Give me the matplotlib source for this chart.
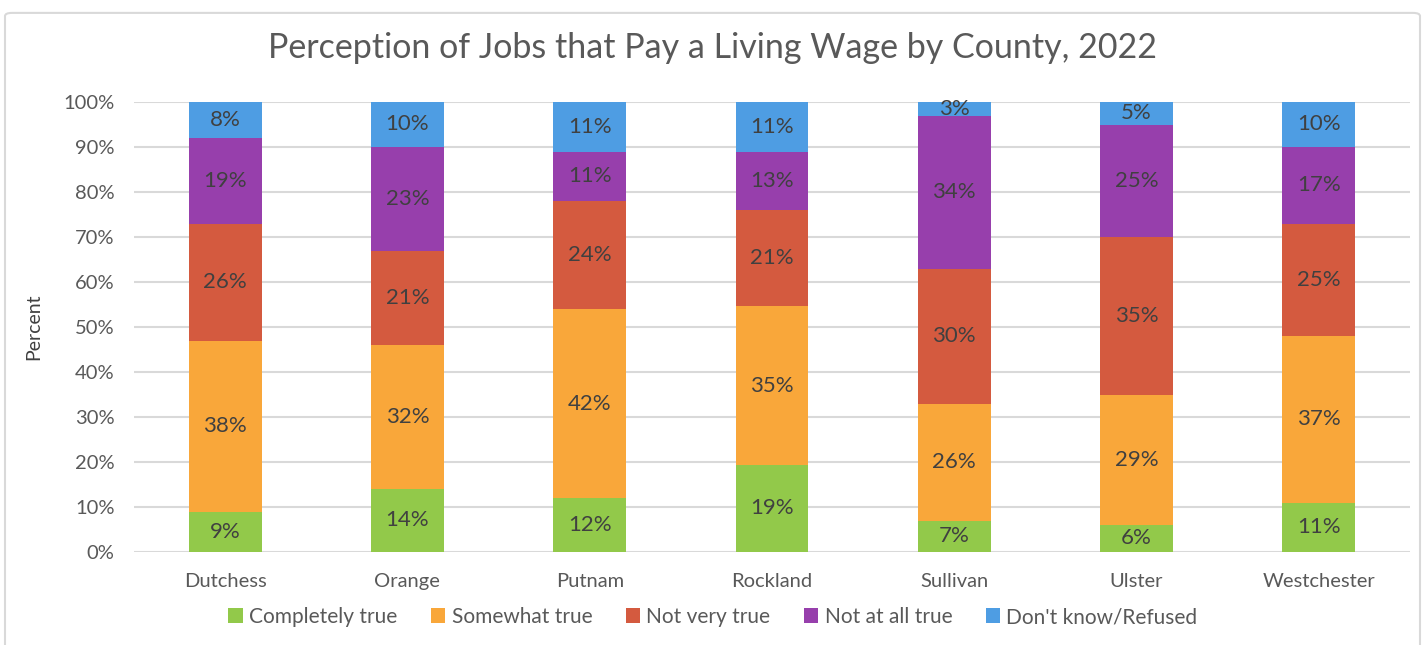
import matplotlib.pyplot as plt
from matplotlib.patches import FancyBboxPatch
import numpy as np

counties = ["Dutchess", "Orange", "Putnam", "Rockland", "Sullivan", "Ulster", "Westchester"]
completely_true = [9, 14, 12, 19.4, 7, 6, 11]
somewhat_true = [38, 32, 42, 35.2, 26, 29, 37]
not_very_true = [26, 21, 24, 21.4, 30, 35, 25]
not_at_all_true = [19, 23, 11, 13, 34, 25, 17]
dont_know = [8, 10, 11, 11, 3, 5, 10]

series = [
    ("Completely true", completely_true, "#92C94A"),
    ("Somewhat true", somewhat_true, "#F9A73A"),
    ("Not very true", not_very_true, "#D45A3F"),
    ("Not at all true", not_at_all_true, "#973FAC"),
    ("Don't know/Refused", dont_know, "#4E9DE3"),
]

plt.rcParams['font.family'] = ['Lato', 'DejaVu Sans']
txt = "#404040"

fig = plt.figure(figsize=(14.26, 6.45), dpi=100)
ax = fig.add_axes([134 / 1426, 1 - 552 / 645, 1276 / 1426, 450 / 645])

# chart border
fig.patches.append(FancyBboxPatch((5 / 1426, -0.02), 1415 / 1426, 1.0, transform=fig.transFigure,
                                  boxstyle="round,pad=0,rounding_size=0.005",
                                  fill=False, edgecolor="#D9D9D9", linewidth=1.5))

x = np.arange(len(counties))
bottom = np.zeros(len(counties))
for name, vals, color in series:
    vals = np.array(vals, dtype=float)
    ax.bar(x, vals, 0.4, bottom=bottom, color=color, label=name, zorder=3)
    for xi, b, v in zip(x, bottom, vals):
        ax.text(xi, b + v / 2, f"{round(v):.0f}%", ha="center", va="center",
                fontsize=16, color=txt, zorder=4)
    bottom += vals

ax.set_ylim(0, 100)
ax.set_xlim(-0.5, len(counties) - 0.5)
ax.set_yticks(range(0, 101, 10))
ax.set_yticklabels([f"{t}%" for t in range(0, 101, 10)])
ax.set_xticks(x)
ax.set_xticklabels(counties)
ax.tick_params(axis="both", length=0, labelsize=14.5, colors="#595959")
ax.tick_params(axis="x", pad=15)
ax.tick_params(axis="y", pad=14)
ax.grid(axis="y", color="#D9D9D9", linewidth=1.5, zorder=0)
for s in ax.spines.values():
    s.set_visible(False)

ax.set_ylabel("Percent", fontsize=14, color="#404040", labelpad=15)
fig.text(0.5, 1 - 48 / 645, "Perception of Jobs that Pay a Living Wage by County, 2022",
         ha="center", va="center", fontsize=24.5, color="#595959")

fig.legend(loc="center", bbox_to_anchor=(0.5, 1 - 617 / 645), ncol=5, frameon=False,
           fontsize=15, handlelength=0.7, handleheight=0.7, handletextpad=0.3,
           columnspacing=1.6, labelcolor="#595959")

fig.savefig("out.png", dpi=100)
